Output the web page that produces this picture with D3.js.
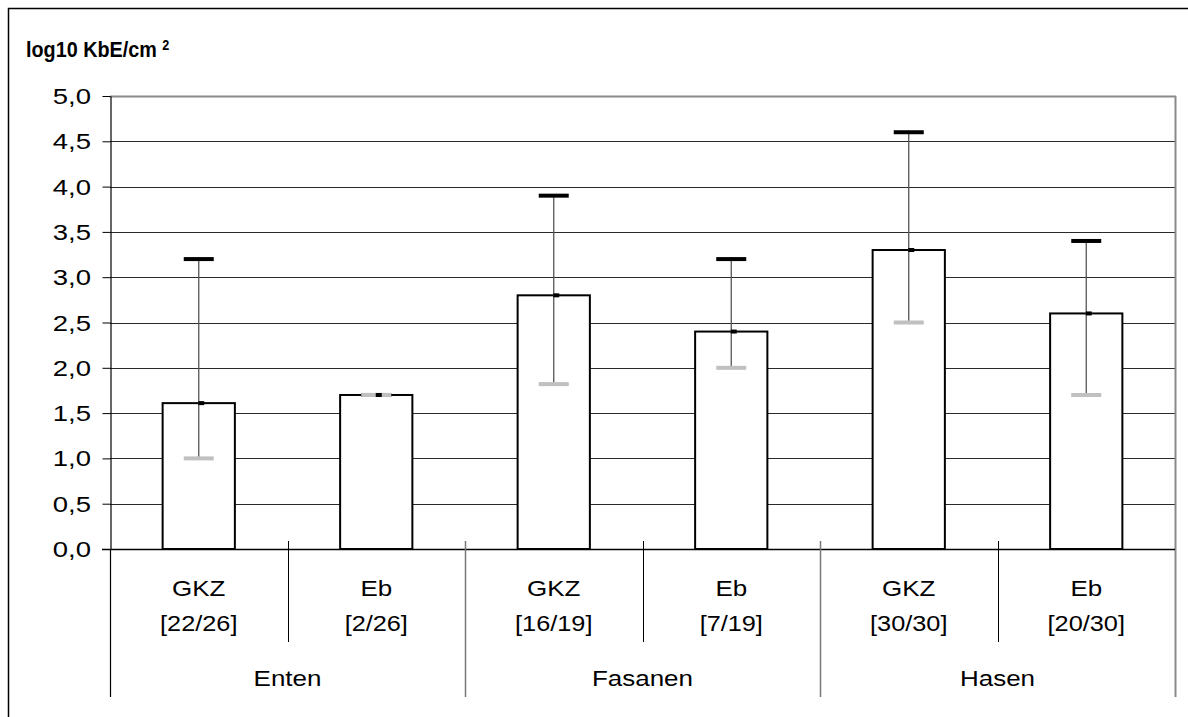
<!DOCTYPE html>
<html>
<head>
<meta charset="utf-8">
<script src="https://cdn.jsdelivr.net/npm/d3@7"></script>
<style>
  html, body { margin: 0; padding: 0; background: #fff; }
  svg { display: block; }
  text { font-family: "Liberation Sans", Arial, Helvetica, sans-serif; fill: #000; }
</style>
</head>
<body>
<svg id="chart" width="1188" height="717"></svg>
<script>
// Bacterial counts (log10 KbE/cm²) per species and sampling method
const categories = ["GKZ", "Eb", "GKZ", "Eb", "GKZ", "Eb"];
const sampleCounts = ["[22/26]", "[2/26]", "[16/19]", "[7/19]", "[30/30]", "[20/30]"];
const groups = ["Enten", "Fasanen", "Hasen"];
const means = [1.61, 1.70, 2.80, 2.40, 3.30, 2.60];
const maxima = [3.20, 1.70, 3.90, 3.20, 4.60, 3.40];
const minima = [1.00, 1.70, 1.82, 2.00, 2.50, 1.70];
const yTicks = [0, 0.5, 1, 1.5, 2, 2.5, 3, 3.5, 4, 4.5, 5];

const svg = d3.select("#chart");
const plotLeft = 110, plotRight = 1175, plotTop = 96, plotBottom = 549;

const idx = d3.range(categories.length);
const x = d3.scaleBand().domain(idx).range([plotLeft, plotRight])
  .paddingInner(0.593).paddingOuter(0.2965);
const y = d3.scaleLinear().domain([0, 5]).range([plotBottom, plotTop]);
const step = x.step();
const boundary = i => plotLeft + i * step;
const fmt = d => d3.format(".1f")(d).replace(".", ",");

// text with horizontal stretch
function label(g, tx, ty, str, opts = {}) {
  return g.append("text")
    .attr("transform", `translate(${tx},${ty}) scale(${opts.sx || 1},1)`)
    .attr("text-anchor", opts.anchor || "middle")
    .style("font-size", (opts.size || 22) + "px")
    .style("font-weight", opts.weight || "normal")
    .text(str);
}

// outer frame
svg.append("rect").attr("x", 8.5).attr("y", 8.5).attr("width", 1200).attr("height", 720)
  .attr("fill", "none").attr("stroke", "#000").attr("stroke-width", 1.5);

// horizontal gridlines
svg.append("g").selectAll("line")
  .data(yTicks.filter(d => d > 0 && d < 5))
  .join("line")
  .attr("x1", plotLeft).attr("x2", plotRight)
  .attr("y1", d => Math.round(y(d)) + 0.5).attr("y2", d => Math.round(y(d)) + 0.5)
  .attr("stroke", "#2a2a2a").attr("stroke-width", 1);

// plot border (top)
svg.append("line").attr("x1", plotLeft).attr("x2", plotRight + 1)
  .attr("y1", plotTop + 0.5).attr("y2", plotTop + 0.5)
  .attr("stroke", "#8a8a8a").attr("stroke-width", 2);

// y axis
const yAxis = svg.append("g").attr("transform", `translate(${plotLeft + 0.5},0)`)
  .call(d3.axisLeft(y).tickValues(yTicks).tickSize(8).tickSizeOuter(0).tickFormat(""));
yAxis.select(".domain").attr("stroke", "#000").attr("stroke-width", 1.2);
yAxis.selectAll(".tick line").attr("stroke", "#000").attr("stroke-width", 1);

const yLabels = svg.append("g");
yTicks.forEach(d => label(yLabels, 91, y(d) + 8, fmt(d), { anchor: "end", sx: 1.25 }));

// bars
svg.append("g").selectAll("rect")
  .data(idx)
  .join("rect")
  .attr("x", i => x(i))
  .attr("y", i => y(means[i]))
  .attr("width", x.bandwidth())
  .attr("height", i => y(0) - y(means[i]))
  .attr("fill", "#fff").attr("stroke", "#000").attr("stroke-width", 2);

// error bars: range from minimum to maximum
const err = svg.append("g");
const cx = i => x(i) + x.bandwidth() / 2;
err.selectAll("line.range")
  .data(idx)
  .join("line")
  .attr("class", "range")
  .attr("x1", cx).attr("x2", cx)
  .attr("y1", i => y(maxima[i])).attr("y2", i => y(minima[i]))
  .attr("stroke", "#555").attr("stroke-width", 1.3);
err.selectAll("rect.max")
  .data(idx)
  .join("rect")
  .attr("class", "max")
  .attr("x", i => cx(i) - 15).attr("y", i => y(maxima[i]) - 2)
  .attr("width", 30).attr("height", 4).attr("fill", "#000");
err.selectAll("rect.min")
  .data(idx)
  .join("rect")
  .attr("class", "min")
  .attr("x", i => cx(i) - 15).attr("y", i => y(minima[i]) - 2)
  .attr("width", 30).attr("height", 4).attr("fill", "#c0c0c0");
err.selectAll("rect.mean")
  .data(idx)
  .join("rect")
  .attr("class", "mean")
  .attr("x", i => cx(i) - 0.5).attr("y", i => y(means[i]) - 2)
  .attr("width", 6).attr("height", 4).attr("fill", "#000");

// right plot border, continued down through the category area
svg.append("line").attr("x1", plotRight + 0.5).attr("x2", plotRight + 0.5)
  .attr("y1", plotTop).attr("y2", 697)
  .attr("stroke", "#8a8a8a").attr("stroke-width", 2);

// category axis baseline
svg.append("line").attr("x1", 102).attr("x2", plotRight)
  .attr("y1", plotBottom + 0.5).attr("y2", plotBottom + 0.5)
  .attr("stroke", "#000").attr("stroke-width", 1.5);

// category separators
const sep = svg.append("g");
[1, 3, 5].forEach(i => sep.append("line")
  .attr("x1", Math.round(boundary(i)) + 0.5).attr("x2", Math.round(boundary(i)) + 0.5)
  .attr("y1", 541).attr("y2", 642).attr("stroke", "#000").attr("stroke-width", 1));
sep.append("line").attr("x1", plotLeft + 0.5).attr("x2", plotLeft + 0.5)
  .attr("y1", plotBottom).attr("y2", 697).attr("stroke", "#000").attr("stroke-width", 1.2);
[2, 4].forEach(i => sep.append("line")
  .attr("x1", Math.round(boundary(i)) + 0.5).attr("x2", Math.round(boundary(i)) + 0.5)
  .attr("y1", 541).attr("y2", 697).attr("stroke", "#777").attr("stroke-width", 1.5));

// category labels
const catLabels = svg.append("g");
idx.forEach(i => {
  label(catLabels, cx(i), 596, categories[i], { sx: 1.18 });
  label(catLabels, cx(i), 631, sampleCounts[i], { sx: 1.15 });
});
groups.forEach((g, j) => {
  label(catLabels, (boundary(2 * j) + boundary(2 * j + 2)) / 2, 686, g, { sx: 1.18 });
});

// unit title
const title = svg.append("text")
  .attr("transform", "translate(26,57) scale(0.9,1)")
  .style("font-size", "22px").style("font-weight", "bold");
title.append("tspan").text("log10 KbE/cm");
title.append("tspan").attr("dx", 6).attr("dy", -7).style("font-size", "14px").text("2");
</script>
</body>
</html>
